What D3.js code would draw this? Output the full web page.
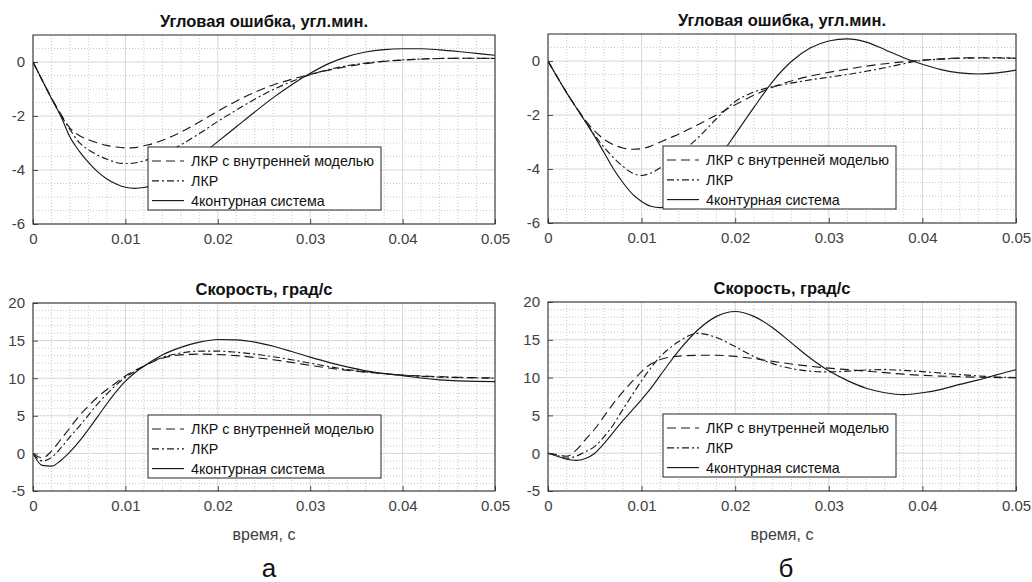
<!DOCTYPE html>
<html>
<head>
<meta charset="utf-8">
<script src="https://cdn.jsdelivr.net/npm/d3@7"></script>
<style>
  body { margin: 0; background: #fff; }
  svg { font-family: "Liberation Sans", Arial, sans-serif; }
</style>
</head>
<body>
<div id="chart-area"></div>
<script>
// time grid, s
var time = [0, 0.001, 0.002, 0.003, 0.004, 0.005, 0.006, 0.007, 0.008, 0.009,
  0.010, 0.011, 0.012, 0.013, 0.014, 0.016, 0.018, 0.020, 0.022, 0.024,
  0.026, 0.028, 0.030, 0.032, 0.034, 0.036, 0.038, 0.040, 0.042, 0.044,
  0.046, 0.048, 0.050];

var legendLabels = ["ЛКР с внутренней моделью", "ЛКР", "4контурная система"];

// panel а, angular error
var errA_int = [0, -0.68, -1.33, -1.92, -2.45, -2.72, -2.88, -3.0, -3.09, -3.15,
  -3.18, -3.17, -3.1, -3.02, -2.9, -2.6, -2.22, -1.82, -1.45, -1.12,
  -0.85, -0.64, -0.46, -0.3, -0.17, -0.06, 0.02, 0.07, 0.11, 0.13,
  0.14, 0.14, 0.13];
var errA_lqr = [0, -0.68, -1.35, -1.96, -2.5, -2.98, -3.25, -3.45, -3.6, -3.72,
  -3.76, -3.74, -3.66, -3.54, -3.4, -3.07, -2.65, -2.2, -1.78, -1.38,
  -1.02, -0.72, -0.47, -0.28, -0.14, -0.04, 0.03, 0.08, 0.11, 0.13,
  0.14, 0.14, 0.13];
var errA_4c = [0, -0.68, -1.35, -2.0, -2.78, -3.3, -3.72, -4.07, -4.33, -4.52,
  -4.64, -4.68, -4.65, -4.56, -4.42, -4.02, -3.5, -2.95, -2.4, -1.85,
  -1.32, -0.84, -0.42, -0.06, 0.2, 0.37, 0.46, 0.49, 0.49, 0.45,
  0.39, 0.32, 0.25];

// panel б, angular error
var errB_int = [0, -0.6, -1.18, -1.7, -2.2, -2.6, -2.9, -3.1, -3.22, -3.27,
  -3.25, -3.15, -3.0, -2.85, -2.7, -2.36, -2.0, -1.62, -1.27, -0.97,
  -0.74, -0.56, -0.42, -0.3, -0.19, -0.1, -0.03, 0.03, 0.08, 0.11,
  0.12, 0.12, 0.1];
var errB_lqr = [0, -0.6, -1.18, -1.72, -2.25, -2.75, -3.2, -3.58, -3.9, -4.15,
  -4.24, -4.15, -3.95, -3.7, -3.45, -2.85, -2.14, -1.5, -1.15, -0.95,
  -0.82, -0.7, -0.6, -0.5, -0.38, -0.25, -0.1, 0.02, 0.07, 0.1,
  0.11, 0.11, 0.1];
var errB_4c = [0, -0.6, -1.18, -1.72, -2.25, -2.8, -3.4, -4.0, -4.5, -4.92,
  -5.2, -5.38, -5.43, -5.35, -5.15, -4.55, -3.7, -2.72, -1.72, -0.76,
  -0.02, 0.48, 0.74, 0.82, 0.7, 0.42, 0.12, -0.12, -0.32, -0.44,
  -0.48, -0.44, -0.34];

// panel а, speed
var spdA_int = [0, -0.6, 0.3, 1.85, 3.4, 5.0, 6.3, 7.5, 8.5, 9.4,
  10.3, 11.0, 11.6, 12.2, 12.65, 13.1, 13.2, 13.15, 13.0, 12.75,
  12.45, 12.1, 11.7, 11.35, 11.05, 10.8, 10.6, 10.42, 10.3, 10.2,
  10.12, 10.07, 10.05];
var spdA_lqr = [0, -1.0, -0.55, 0.7, 2.2, 3.6, 5.1, 6.6, 7.9, 9.1,
  10.1, 10.9, 11.6, 12.25, 12.75, 13.35, 13.6, 13.6, 13.45, 13.2,
  12.85, 12.45, 12.0, 11.55, 11.15, 10.85, 10.6, 10.4, 10.25, 10.15,
  10.08, 10.03, 10.0];
var spdA_4c = [0, -1.6, -1.7, -0.95, 0.2, 1.6, 3.2, 4.9, 6.6, 8.2,
  9.6, 10.7, 11.6, 12.4, 13.1, 14.1, 14.8, 15.15, 15.1, 14.8,
  14.25, 13.55, 12.8, 12.1, 11.5, 10.98, 10.62, 10.35, 10.02, 9.78,
  9.64, 9.57, 9.55];

// panel б, speed
var spdB_int = [0, -0.2, -0.4, 0.4, 1.8, 3.2, 4.9, 6.6, 8.1, 9.5,
  10.8, 11.8, 12.4, 12.7, 12.85, 12.95, 12.95, 12.8, 12.5, 12.15,
  11.8, 11.5, 11.25, 11.05, 10.85, 10.65, 10.45, 10.3, 10.2, 10.12,
  10.05, 10.0, 9.98];
var spdB_lqr = [0, -0.3, -0.65, -0.4, 0.2, 0.9, 2.2, 3.8, 5.8, 7.7,
  9.6, 11.3, 12.8, 13.9, 14.8, 15.85, 15.3, 14.1, 12.8, 11.85,
  11.2, 10.85, 10.75, 10.85, 11.0, 11.05, 10.95, 10.8, 10.6, 10.4,
  10.22, 10.08, 10.0];
var spdB_4c = [0, -0.4, -0.8, -0.95, -0.7, 0.0, 1.3, 2.8, 4.3, 5.7,
  7.1, 8.6, 10.3, 12.0, 13.6, 16.3, 18.1, 18.75, 18.1, 16.6,
  14.6, 12.6, 10.9, 9.6, 8.6, 8.0, 7.75, 8.0, 8.45, 9.1,
  9.7, 10.4, 11.05];

var xTicks = [0, 0.01, 0.02, 0.03, 0.04, 0.05];
var errTicks = [-6, -4, -2, 0];
var spdTicks = [-5, 0, 5, 10, 15, 20];

var W = 1032, H = 582;
var svg = d3.select("#chart-area").append("svg")
  .attr("width", W)
  .attr("height", H);

var dashes = ["9,5", "7,3,2,3", null];
var font = "'Liberation Sans', Arial, sans-serif";

var panels = [
  {id: "p1", left: 33, top: 35, w: 462, h: 189, ydom: [-6, 1], yticks: errTicks, yminor: 0.5,
    title: "Угловая ошибка, угл.мин.", series: [errA_int, errA_lqr, errA_4c]},
  {id: "p2", left: 548, top: 34, w: 468, h: 189, ydom: [-6, 1], yticks: errTicks, yminor: 0.5,
    title: "Угловая ошибка, угл.мин.", series: [errB_int, errB_lqr, errB_4c]},
  {id: "p3", left: 33, top: 303, w: 462, h: 188, ydom: [-5, 20], yticks: spdTicks, yminor: 1,
    title: "Скорость, град/с", series: [spdA_int, spdA_lqr, spdA_4c], xlabel: "время, с"},
  {id: "p4", left: 548, top: 302, w: 468, h: 189, ydom: [-5, 20], yticks: spdTicks, yminor: 1,
    title: "Скорость, град/с", series: [spdB_int, spdB_lqr, spdB_4c], xlabel: "время, с"}
];

panels.forEach(function(p) {
  var g = svg.append("g")
    .attr("transform", "translate(" + p.left + "," + p.top + ")");

  var x = d3.scaleLinear().domain([0, 0.05]).range([0, p.w]);
  var y = d3.scaleLinear().domain(p.ydom).range([p.h, 0]);

  // minor grid
  var xMinor = d3.range(0, 0.0501, 0.002).filter(function(v) { return Math.abs(v / 0.01 - Math.round(v / 0.01)) > 1e-6; });
  var yMinor = d3.range(p.ydom[0], p.ydom[1] + 1e-9, p.yminor).filter(function(v) {
    return p.yticks.indexOf(Math.round(v * 1000) / 1000) < 0 && v < p.ydom[1] - 1e-9 && v > p.ydom[0] + 1e-9;
  });
  g.selectAll(".xminor").data(xMinor).enter().append("line")
    .attr("x1", function(d) { return x(d); }).attr("x2", function(d) { return x(d); })
    .attr("y1", 0).attr("y2", p.h)
    .attr("stroke", "#bdbdbd").attr("stroke-width", 0.8).attr("stroke-dasharray", "1,2");
  g.selectAll(".yminor").data(yMinor).enter().append("line")
    .attr("x1", 0).attr("x2", p.w)
    .attr("y1", function(d) { return y(d); }).attr("y2", function(d) { return y(d); })
    .attr("stroke", "#bdbdbd").attr("stroke-width", 0.8).attr("stroke-dasharray", "1,2");

  // major grid
  g.selectAll(".xmajor").data(xTicks).enter().append("line")
    .attr("x1", function(d) { return x(d); }).attr("x2", function(d) { return x(d); })
    .attr("y1", 0).attr("y2", p.h)
    .attr("stroke", "#d6d6d6").attr("stroke-width", 1);
  g.selectAll(".ymajor").data(p.yticks).enter().append("line")
    .attr("x1", 0).attr("x2", p.w)
    .attr("y1", function(d) { return y(d); }).attr("y2", function(d) { return y(d); })
    .attr("stroke", "#d6d6d6").attr("stroke-width", 1);

  // curves
  var clip = svg.append("clipPath").attr("id", "clip-" + p.id);
  clip.append("rect").attr("width", p.w).attr("height", p.h);

  var line = d3.line()
    .x(function(d, i) { return x(time[i]); })
    .y(function(d) { return y(d); })
    .curve(d3.curveMonotoneX);

  p.series.forEach(function(s, k) {
    g.append("path")
      .attr("clip-path", "url(#clip-" + p.id + ")")
      .attr("d", line(s))
      .attr("fill", "none")
      .attr("stroke", "#1a1a1a")
      .attr("stroke-width", 1.15)
      .attr("stroke-dasharray", dashes[k]);
  });

  // axes
  var xAxis = d3.axisBottom(x).tickValues(xTicks).tickSize(-5).tickPadding(9)
    .tickFormat(function(d) { return d === 0 ? "0" : d.toFixed(2); });
  var yAxis = d3.axisLeft(y).tickValues(p.yticks).tickSize(-5).tickPadding(8)
    .tickFormat(function(d) { return String(d); });

  var gx = g.append("g").attr("transform", "translate(0," + p.h + ")").call(xAxis);
  var gy = g.append("g").call(yAxis);
  [gx, gy].forEach(function(a) {
    a.select(".domain").remove();
    a.selectAll("line").attr("stroke", "#262626").attr("stroke-width", 0.8);
    a.selectAll("text").attr("font-size", "15px").attr("fill", "#404040")
      .attr("font-family", font);
  });

  // box
  g.append("rect")
    .attr("width", p.w).attr("height", p.h)
    .attr("fill", "none").attr("stroke", "#262626").attr("stroke-width", 1);

  // title
  g.append("text")
    .attr("x", p.w / 2).attr("y", -8)
    .attr("text-anchor", "middle")
    .attr("font-size", "16.5px").attr("font-weight", "bold")
    .attr("fill", "#111")
    .text(p.title);

  if (p.xlabel) {
    g.append("text")
      .attr("x", p.w / 2).attr("y", p.h + 49)
      .attr("text-anchor", "middle")
      .attr("font-size", "16px").attr("fill", "#404040")
      .text(p.xlabel);
  }

  // legend
  var lg = g.append("g").attr("transform", "translate(115,112)");
  lg.append("rect")
    .attr("width", 233).attr("height", 63)
    .attr("fill", "#fff").attr("stroke", "#262626").attr("stroke-width", 1);
  legendLabels.forEach(function(lab, k) {
    var ly = 14 + k * 19.8;
    lg.append("line")
      .attr("x1", 4).attr("x2", 36).attr("y1", ly).attr("y2", ly)
      .attr("stroke", "#1a1a1a").attr("stroke-width", 1.15)
      .attr("stroke-dasharray", dashes[k]);
    lg.append("text")
      .attr("x", 43).attr("y", ly + 5)
      .attr("font-size", "14.3px").attr("fill", "#111")
      .text(lab);
  });
});

// panel letters
svg.append("text").attr("x", 269).attr("y", 577)
  .attr("text-anchor", "middle").attr("font-size", "26px").attr("fill", "#111").text("а");
svg.append("text").attr("x", 786).attr("y", 577)
  .attr("text-anchor", "middle").attr("font-size", "26px").attr("fill", "#111").text("б");
</script>
</body>
</html>
